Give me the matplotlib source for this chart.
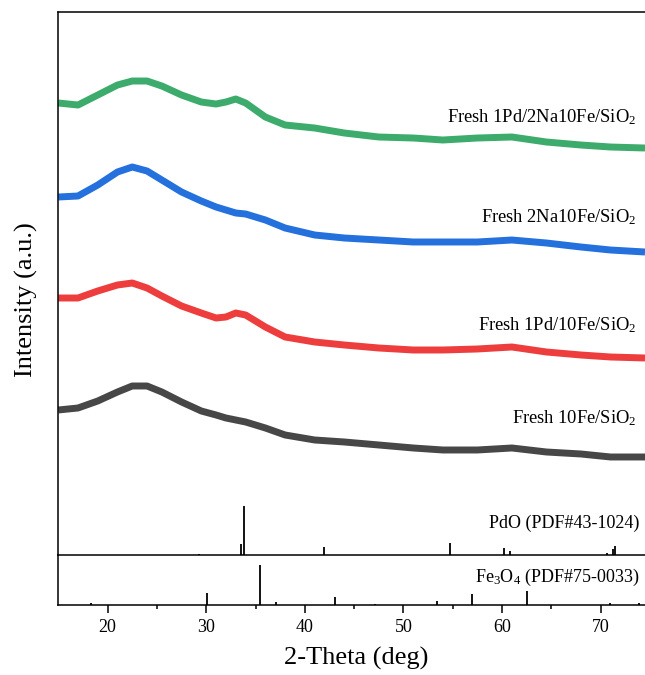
import matplotlib
matplotlib.use("Agg")
import matplotlib.pyplot as plt

plt.rcParams['font.family'] = ['Liberation Serif', 'DejaVu Serif']
plt.rcParams['mathtext.default'] = 'regular'

# 2-theta grid the curves were read on
two_theta = [15, 17, 19, 21, 22.5, 24, 25.5, 27.5, 29.5, 31, 32, 33, 34, 35, 36,
             38, 41, 44, 47.5, 51, 54, 57.5, 61, 64.5, 68, 71, 74.5]

# intensities (a.u.)
fe10 = [65, 67, 74, 83, 89, 89, 83, 73, 64, 60, 57, 55, 53, 50, 47,
        40, 35, 33, 30, 27, 25, 25, 27, 23, 21, 18, 18]
pd1_fe10 = [77, 77, 84, 90, 92, 87, 79, 69, 62, 57, 58, 62, 60, 54, 48,
            38, 33, 30, 27, 25, 25, 26, 28, 23, 20, 18, 17]
na2_fe10 = [78, 79, 90, 103, 108, 104, 95, 83, 74, 68, 65, 62, 61, 58, 55,
            47, 40, 37, 35, 33, 33, 33, 35, 32, 28, 25, 23]
pd1_na2_fe10 = [72, 70, 80, 90, 94, 94, 89, 80, 73, 71, 73, 76, 72, 65, 58,
                50, 47, 42, 38, 37, 35, 37, 38, 33, 30, 28, 27]

labels = ["Fresh 10Fe/SiO$_2$", "Fresh 1Pd/10Fe/SiO$_2$",
          "Fresh 2Na10Fe/SiO$_2$", "Fresh 1Pd/2Na10Fe/SiO$_2$"]
series = [fe10, pd1_fe10, na2_fe10, pd1_na2_fe10]
colors = ["#474747", "#ee3d3d", "#2470dc", "#3cab6b"]
offsets = [80, 180, 280, 380]
label_y = [132, 225, 333, 433]

# reference cards (relative intensity, %)
pdo_pos = [29.3, 33.55, 33.87, 41.93, 54.75, 60.2, 60.8, 70.6, 71.3, 71.5]
pdo_int = [2, 22, 100, 17, 25, 14, 8, 4, 12, 18]
fe3o4_pos = [18.27, 30.07, 35.42, 37.05, 43.05, 47.1, 53.39, 56.94, 62.52, 70.9, 73.9]
fe3o4_int = [6, 30, 100, 8, 21, 2, 10, 28, 35, 6, 5]

fig = plt.figure(figsize=(6.45, 6.75), dpi=100)
ax = fig.add_axes([0.0904, 0.1778, 0.9096, 0.8044])
ax2 = fig.add_axes([0.0904, 0.1037, 0.9096, 0.0741])

for ys, c, off, lab, ly in zip(series, colors, offsets, labels, label_y):
    ax.plot(two_theta, [v + off for v in ys], color=c, lw=5, solid_capstyle='butt')
    ax.text(73.6, ly, lab, ha='right', va='baseline', fontsize=13.3)

ax.vlines(pdo_pos, 0, [v * 0.49 for v in pdo_int], color='black', lw=1.3)
ax.text(73.9, 27, "PdO (PDF#43-1024)", ha='right', va='baseline', fontsize=13)

ax2.vlines(fe3o4_pos, 0, [v * 0.40 for v in fe3o4_int], color='black', lw=1.3)
ax2.text(73.9, 23, "Fe$_3$O$_4$ (PDF#75-0033)", ha='right', va='baseline', fontsize=13)

for a in (ax, ax2):
    a.set_xlim(15, 74.5)
    a.set_yticks([])
    a.spines['right'].set_visible(False)
    for s in ('left', 'top', 'bottom'):
        a.spines[s].set_linewidth(1.1)

ax.set_ylim(0, 543)
ax.set_xticks([])
ax.spines['bottom'].set_visible(False)

ax2.set_ylim(0, 50)
ax2.set_xticks([20, 30, 40, 50, 60, 70])
ax2.set_xticks([25, 35, 45, 55, 65], minor=True)
ax2.tick_params(axis='x', which='major', direction='out', length=6, width=1.1,
                labelsize=13, pad=4)
ax2.tick_params(axis='x', which='minor', direction='out', length=3, width=1.1)

fig.text(356 / 645, 1 - 658 / 675, "2-Theta (deg)", ha='center', va='center', fontsize=19)
fig.text(26 / 645, 1 - 300 / 675, "Intensity (a.u.)", ha='center', va='center',
         rotation=90, fontsize=19)

fig.savefig("out.png", dpi=100)
